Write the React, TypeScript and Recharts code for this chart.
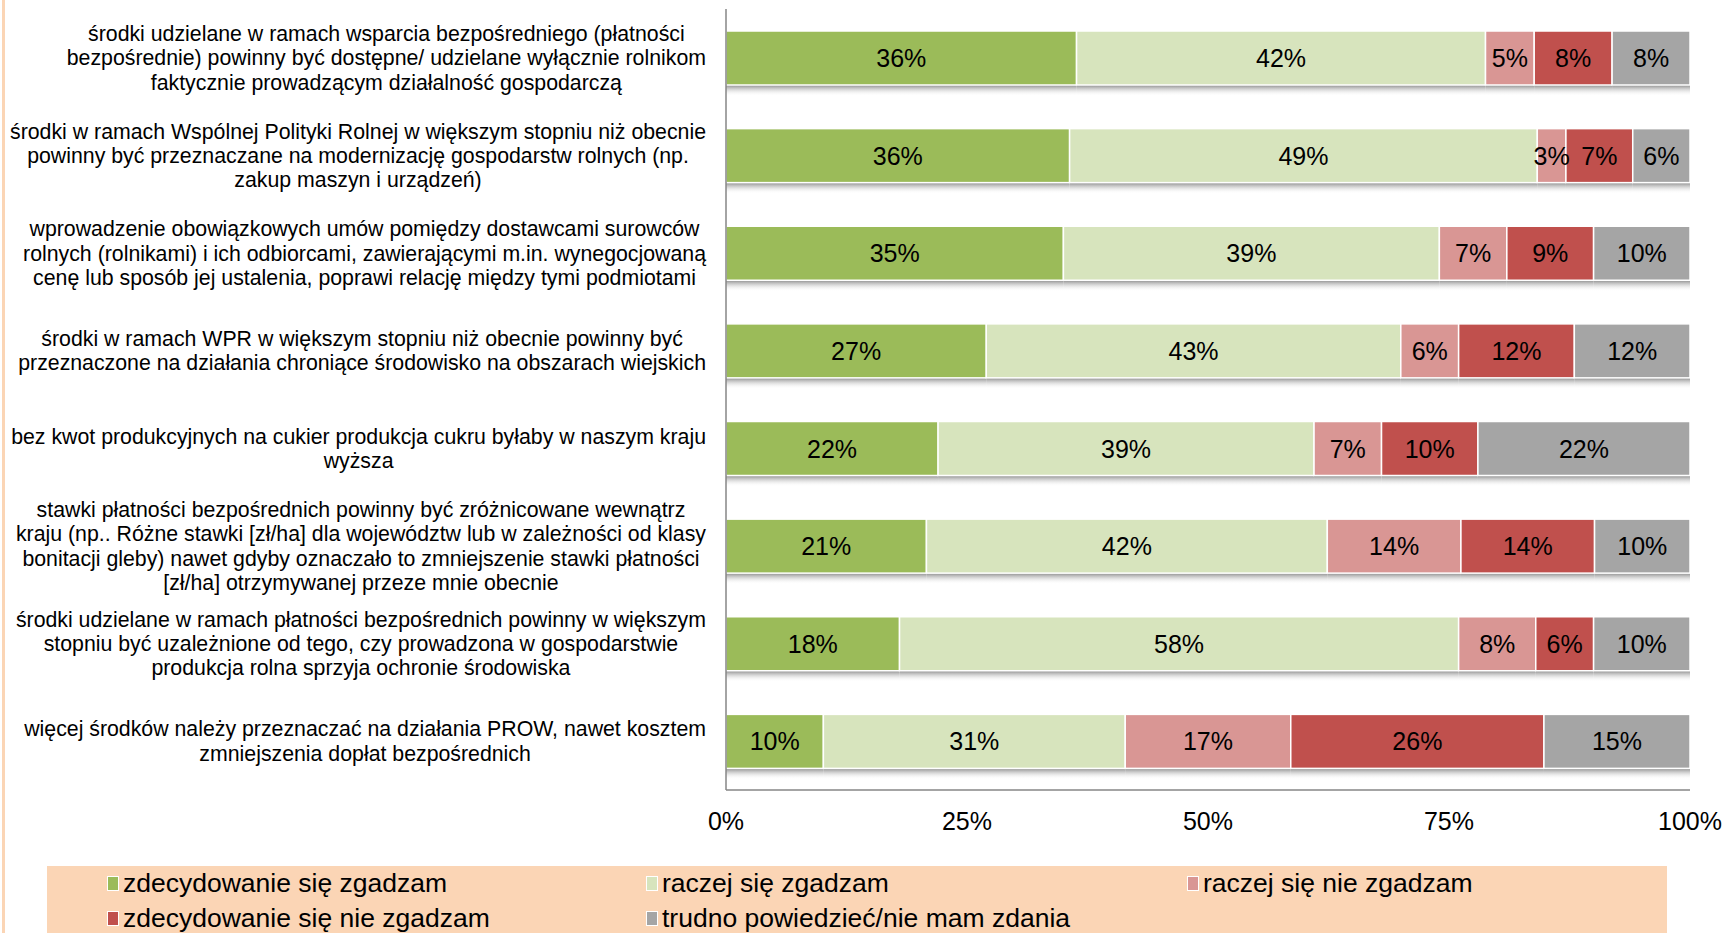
import { BarChart, Bar, XAxis, YAxis, LabelList } from "recharts";

const categories = [
  ["środki udzielane w ramach wsparcia bezpośredniego (płatności", "bezpośrednie) powinny być dostępne/ udzielane wyłącznie rolnikom", "faktycznie prowadzącym działalność gospodarczą"],
  ["środki w ramach Wspólnej Polityki Rolnej w większym stopniu niż obecnie", "powinny być przeznaczane na modernizację gospodarstw rolnych (np.", "zakup maszyn i urządzeń)"],
  ["wprowadzenie obowiązkowych umów pomiędzy dostawcami surowców", "rolnych (rolnikami) i ich odbiorcami, zawierającymi m.in. wynegocjowaną", "cenę lub sposób jej ustalenia, poprawi relację między tymi podmiotami"],
  ["środki w ramach WPR w większym stopniu niż obecnie powinny być", "przeznaczone na działania chroniące środowisko na obszarach wiejskich"],
  ["bez kwot produkcyjnych na cukier produkcja cukru byłaby w naszym kraju", "wyższa"],
  ["stawki płatności bezpośrednich powinny być zróżnicowane wewnątrz", "kraju (np.. Różne stawki [zł/ha] dla województw lub w zależności od klasy", "bonitacji gleby) nawet gdyby oznaczało to zmniejszenie stawki płatności", "[zł/ha] otrzymywanej przeze mnie obecnie"],
  ["środki udzielane w ramach płatności bezpośrednich powinny w większym", "stopniu być uzależnione od tego, czy prowadzona w gospodarstwie", "produkcja rolna sprzyja ochronie środowiska"],
  ["więcej środków należy przeznaczać na działania PROW, nawet kosztem", "zmniejszenia dopłat bezpośrednich"],
];

const stronglyAgree = [36, 36, 35, 27, 22, 21, 18, 10];
const ratherAgree = [42, 49, 39, 43, 39, 42, 58, 31];
const ratherDisagree = [5, 3, 7, 6, 7, 14, 8, 17];
const stronglyDisagree = [8, 7, 9, 12, 10, 14, 6, 26];
const noOpinion = [8, 6, 10, 12, 22, 10, 10, 15];

const xTicks = [0, 0.25, 0.5, 0.75, 1];

const series = [
  { key: "s1", name: "zdecydowanie się zgadzam", color: "#9BBB59", values: stronglyAgree },
  { key: "s2", name: "raczej się zgadzam", color: "#D7E4BD", values: ratherAgree },
  { key: "s3", name: "raczej się nie zgadzam", color: "#D99694", values: ratherDisagree },
  { key: "s4", name: "zdecydowanie się nie zgadzam", color: "#C0504D", values: stronglyDisagree },
  { key: "s5", name: "trudno powiedzieć/nie mam zdania", color: "#A5A5A5", values: noOpinion },
];

const data = categories.map((lines, i) => {
  const row: any = { name: lines.join(" "), idx: i };
  series.forEach((s) => {
    row[s.key] = s.values[i];
  });
  return row;
});

const FONT = "'Liberation Sans', Arial, sans-serif";
const CAT_SIZE = 21.3;

// measure text to centre each label block against a right edge
let ctx: CanvasRenderingContext2D | null = null;
const measure = (s: string) => {
  if (!ctx && typeof document !== "undefined") {
    ctx = document.createElement("canvas").getContext("2d");
  }
  if (!ctx) return s.length * CAT_SIZE * 0.47;
  ctx.font = `${CAT_SIZE}px 'Liberation Sans'`;
  return ctx.measureText(s).width;
};

const ShadowBar = (props: any) => {
  const { x, y, width, height, fill } = props;
  if (!width || width <= 0) return null;
  return (
    <g>
      <defs>
        <linearGradient id="barShadow" x1="0" y1="0" x2="0" y2="1">
          <stop offset="0%" stopColor="#8c8c8c" stopOpacity={1} />
          <stop offset="100%" stopColor="#ffffff" stopOpacity={0} />
        </linearGradient>
      </defs>
      <rect x={x} y={y + height} width={width} height={11} fill="url(#barShadow)" />
      <rect x={x} y={y} width={width} height={height} fill={fill} stroke="#ffffff" strokeWidth={1.5} />
    </g>
  );
};

const CategoryTick = (props: any) => {
  const { x, y, payload } = props;
  const lines = categories[payload.index] || [];
  const lh = 24.3;
  const maxW = Math.max(...lines.map(measure));
  const cx = x - maxW / 2;
  const start = y - ((lines.length - 1) * lh) / 2;
  return (
    <text x={cx} y={start} textAnchor="middle" fontFamily={FONT} fontSize={CAT_SIZE} fill="#000">
      {lines.map((l, i) => (
        <tspan key={i} x={cx} y={start + i * lh} dy="0.35em">
          {l}
        </tspan>
      ))}
    </text>
  );
};

const makeLabel = (values: number[]) => (props: any) => {
  const { x, y, width, height, index } = props;
  return (
    <text
      x={x + width / 2}
      y={y + height / 2}
      dy="0.36em"
      textAnchor="middle"
      fontFamily={FONT}
      fontSize={25}
      fill="#000"
    >
      {values[index]}%
    </text>
  );
};

const App = () => {
  return (
    <div style={{ position: "absolute", left: 0, top: 0, width: 1727, height: 933, background: "#fff", overflow: "hidden" }}>
      <div style={{ position: "absolute", left: 2, top: 0, width: 3, height: 933, background: "#FBD5B5" }} />
      <div style={{ position: "absolute", left: 0, top: 0 }}>
        <BarChart
          width={1727}
          height={933}
          data={data}
          layout="vertical"
          stackOffset="expand"
          barSize={54}
          margin={{ top: 9, right: 37, bottom: 113, left: 10 }}
        >
          <XAxis
            type="number"
            domain={[0, 1]}
            ticks={xTicks}
            tickFormatter={(v: number) => `${Math.round(v * 100)}%`}
            tickLine={false}
            tickSize={0}
            tickMargin={22}
            axisLine={{ stroke: "#868686", strokeWidth: 1.5 }}
            tick={{ fontFamily: FONT, fontSize: 25, fill: "#000" }}
            interval={0}
          />
          <YAxis
            type="category"
            dataKey="name"
            width={716}
            tickLine={false}
            tickSize={0}
            tickMargin={20}
            axisLine={{ stroke: "#868686", strokeWidth: 1.5 }}
            tick={<CategoryTick />}
            interval={0}
          />
          {series.map((s) => (
            <Bar
              key={s.key}
              dataKey={s.key}
              name={s.name}
              stackId="a"
              fill={s.color}
              shape={<ShadowBar />}
              isAnimationActive={false}
            >
              <LabelList dataKey={s.key} content={makeLabel(s.values)} />
            </Bar>
          ))}
        </BarChart>
      </div>
      <div
        style={{
          position: "absolute",
          left: 47,
          top: 866,
          width: 1620,
          height: 67,
          background: "#FBD5B5",
        }}
      />
      {series.map((s, i) => {
        const col = i % 3;
        const row = Math.floor(i / 3);
        const lefts = [107, 646, 1187];
        return (
          <div
            key={s.key}
            style={{
              position: "absolute",
              left: lefts[col],
              top: 883 + row * 35 - 15,
              height: 30,
              display: "flex",
              alignItems: "center",
              fontFamily: FONT,
              fontSize: 26.5,
              color: "#000",
              whiteSpace: "nowrap",
            }}
          >
            <span
              style={{
                display: "inline-block",
                width: 10,
                height: 13,
                background: s.color,
                border: "1px solid #fff",
                marginRight: 4,
              }}
            />
            {s.name}
          </div>
        );
      })}
    </div>
  );
};

export default App;
